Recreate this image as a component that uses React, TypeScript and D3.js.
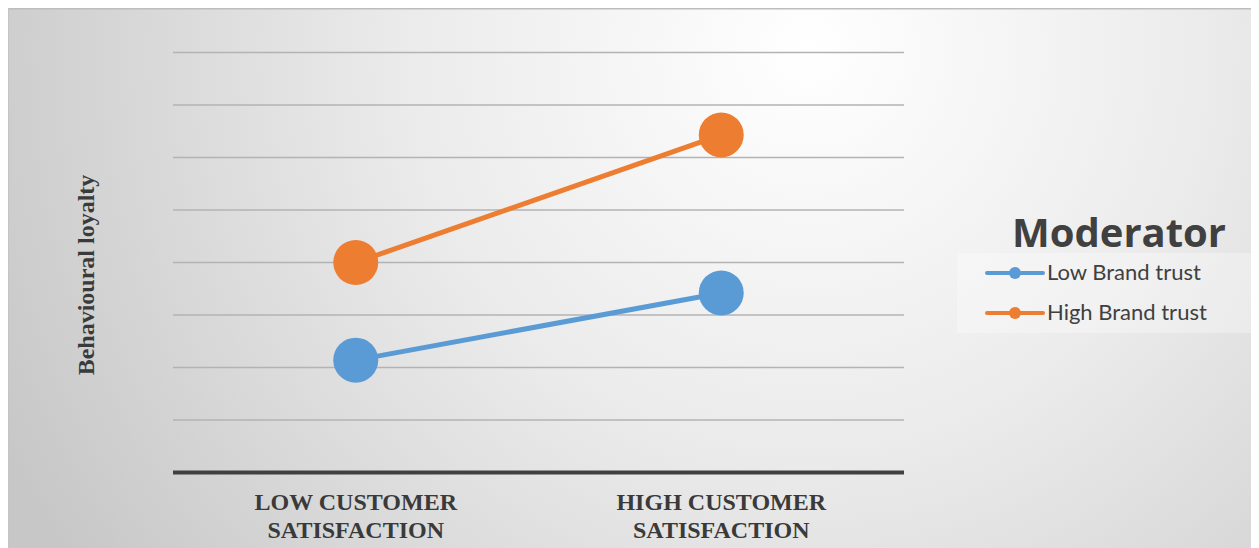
import React from "react";
import * as d3 from "d3";

const categories = ["LOW CUSTOMER|SATISFACTION", "HIGH CUSTOMER|SATISFACTION"];
const lowBrandTrust = [2.14, 3.42];
const highBrandTrust = [4.0, 6.43];
const seriesNames = ["Low Brand trust", "High Brand trust"];
const seriesColors = ["#5b9bd5", "#ed7d31"];
const yTicks = [1, 2, 3, 4, 5, 6, 7, 8];

const W = 1250;
const H = 540;
const left = 165;
const right = 896;
const top = 44.5;
const bottom = 464.5;

export default function App() {
  const x = d3.scaleBand<string>().domain(categories).range([left, right]);
  const y = d3.scaleLinear().domain([0, 8]).range([bottom, top]);
  const line = d3
    .line<number>()
    .x((_, i) => (x(categories[i]) as number) + x.bandwidth() / 2)
    .y((d) => y(d));
  const series = [lowBrandTrust, highBrandTrust];

  return (
    <svg width={W} height={H} style={{ display: "block" }}>
      <defs>
        <radialGradient id="bg" cx="0.64" cy="0.08" r="0.72" gradientUnits="objectBoundingBox" gradientTransform="translate(0.64 0.08) scale(1 2.3) translate(-0.64 -0.08)">
          <stop offset="0" stopColor="#ffffff" />
          <stop offset="0.45" stopColor="#ebebeb" />
          <stop offset="1" stopColor="#c7c7c7" />
        </radialGradient>
      </defs>
      <rect x={0} y={0} width={W} height={H} fill="url(#bg)" />
      <line x1={0} x2={W} y1={0.5} y2={0.5} stroke="#bdbdbd" strokeWidth={2} />
      <line x1={0.5} x2={0.5} y1={0} y2={H} stroke="#c4c4c4" strokeWidth={1} />
      <line x1={W - 0.5} x2={W - 0.5} y1={0} y2={H} stroke="#c4c4c4" strokeWidth={1} />

      {yTicks.map((t) => (
        <line key={t} x1={left} x2={right} y1={y(t)} y2={y(t)} stroke="#b3b3b3" strokeWidth={1.5} />
      ))}
      <line x1={left} x2={right} y1={y(0)} y2={y(0)} stroke="#404040" strokeWidth={4} />

      {categories.map((c) => {
        const cx = (x(c) as number) + x.bandwidth() / 2;
        const lines = c.split("|");
        return (
          <text key={c} x={cx} textAnchor="middle" fontFamily="'Liberation Serif', 'Times New Roman', serif" fontWeight="bold" fontSize={24} fill="#3a3a3a">
            {lines.map((l, i) => (
              <tspan key={i} x={cx} y={y(0) + 37 + i * 28}>{l}</tspan>
            ))}
          </text>
        );
      })}

      <text
        transform={`translate(86, ${267}) rotate(-90)`}
        textAnchor="middle"
        fontFamily="'Liberation Serif', 'Times New Roman', serif"
        fontWeight="bold"
        fontSize={24}
        fill="#3a3a3a"
      >
        Behavioural loyalty
      </text>

      {series.map((s, si) => (
        <g key={si}>
          <path d={line(s) || ""} fill="none" stroke={seriesColors[si]} strokeWidth={5} />
          {s.map((v, i) => (
            <circle key={i} cx={(x(categories[i]) as number) + x.bandwidth() / 2} cy={y(v)} r={22.5} fill={seriesColors[si]} />
          ))}
        </g>
      ))}

      <rect x={949} y={245} width={300} height={80} fill="#ffffff" fillOpacity={0.3} />
      <text x={1111} y={239} textAnchor="middle" fontFamily="'Open Sans', Lato, sans-serif" fontWeight="bold" fontSize={40} fill="#404040">
        Moderator
      </text>
      {seriesNames.map((n, i) => {
        const ly = 265 + i * 40;
        return (
          <g key={n}>
            <line x1={979} x2={1035} y1={ly} y2={ly} stroke={seriesColors[i]} strokeWidth={4} strokeLinecap="round" />
            <circle cx={1007} cy={ly} r={6} fill={seriesColors[i]} />
            <text x={1039} y={ly + 7} fontFamily="Lato, 'Open Sans', sans-serif" fontSize={22} fill="#404040">
              {n}
            </text>
          </g>
        );
      })}
    </svg>
  );
}
